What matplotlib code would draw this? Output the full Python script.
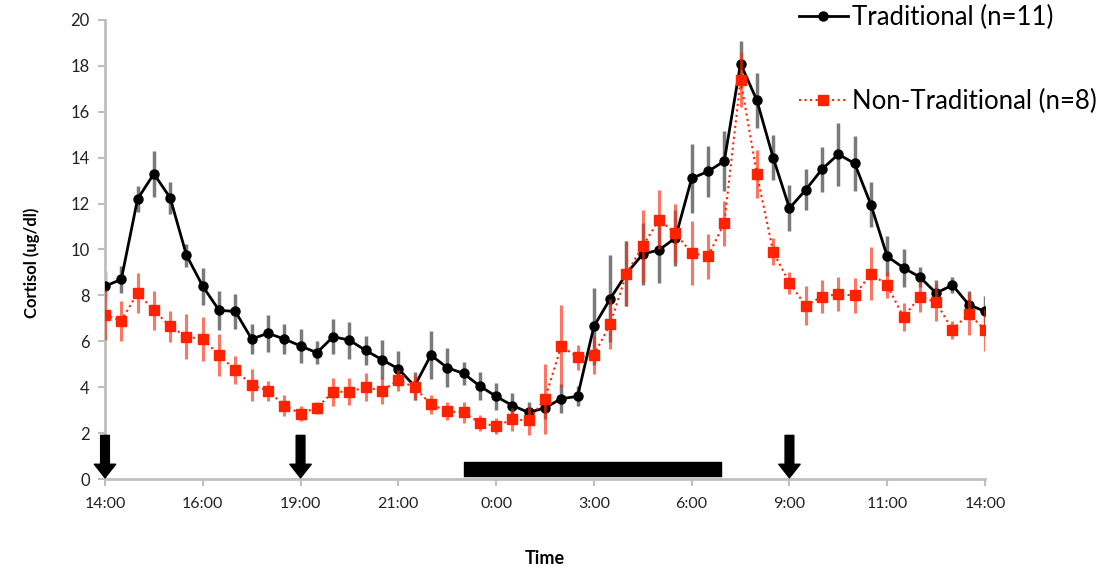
import numpy as np
import matplotlib
matplotlib.use('Agg')
from matplotlib import pyplot as plt

plt.rcParams['font.family'] = ['Lato', 'DejaVu Sans']

# x axis is a category axis: 55 samples, label every 6th
tick_labels = ['14:00', '16:00', '19:00', '21:00', '0:00', '3:00', '6:00', '9:00', '11:00', '14:00']

trad = [8.4, 8.7, 12.2, 13.3, 12.25, 9.75, 8.4, 7.35, 7.3, 6.1, 6.35, 6.1,
        5.8, 5.5, 6.2, 6.05, 5.6, 5.2, 4.8, 4.05, 5.4, 4.85, 4.6, 4.05,
        3.6, 3.2, 2.9, 3.1, 3.5, 3.6, 6.65, 7.85, 8.95, 9.8, 9.98, 10.5,
        13.1, 13.4, 13.85, 18.1, 16.5, 14.0, 11.8, 12.6, 13.5, 14.15, 13.75, 11.95,
        9.7, 9.2, 8.8, 8.1, 8.45, 7.6, 7.3]
trad_err = [0.65, 0.58, 0.58, 1.0, 0.7, 0.5, 0.8, 0.84, 0.78, 0.65, 0.8, 0.65,
            0.73, 0.5, 0.76, 0.8, 0.65, 0.84, 0.76, 0.62, 1.05, 0.84, 0.5, 0.62,
            0.58, 0.54, 0.44, 0.5, 0.62, 0.44, 1.67, 1.9, 1.42, 1.34, 1.45, 1.23,
            1.49, 1.1, 1.3, 1.0, 1.2, 0.98, 1.0, 0.9, 0.98, 1.38, 1.2, 0.98,
            0.87, 0.84, 0.45, 0.58, 0.36, 0.58, 0.69]

nontrad = [7.15, 6.9, 8.1, 7.35, 6.65, 6.2, 6.1, 5.4, 4.75, 4.1, 3.85, 3.2,
           2.85, 3.1, 3.8, 3.8, 4.0, 3.85, 4.3, 4.0, 3.25, 2.95, 2.9, 2.45,
           2.3, 2.6, 2.55, 3.5, 5.8, 5.3, 5.4, 6.75, 8.95, 10.15, 11.3, 10.7,
           9.85, 9.7, 11.15, 17.4, 13.3, 9.9, 8.55, 7.55, 7.95, 8.05, 8.0, 8.95,
           8.45, 7.05, 7.95, 7.7, 6.5, 7.2, 6.5]
nontrad_err = [1.1, 0.87, 0.86, 0.84, 0.69, 0.98, 0.94, 0.91, 0.62, 0.69, 0.44, 0.47,
               0.33, 0.25, 0.62, 0.58, 0.6, 0.58, 0.47, 0.55, 0.4, 0.4, 0.47, 0.36,
               0.36, 0.51, 0.62, 1.52, 1.78, 0.54, 0.84, 1.09, 1.42, 1.56, 1.3, 1.3,
               1.38, 0.98, 0.98, 1.2, 1.05, 0.58, 0.47, 0.84, 0.73, 0.73, 0.76, 1.16,
               0.58, 0.62, 0.69, 0.8, 0.4, 0.91, 0.91]

arrow_idx = [0, 12, 42]      # marker arrows at 14:00, 19:00, 9:00
sleep_span = (22, 37.8)      # black sleep bar, in sample index units
sleep_y = (0.15, 0.75)

x = np.arange(len(trad))
grey = '#bfbfbf'

fig = plt.figure(figsize=(11.05, 5.71), dpi=100)
ax = fig.add_axes([105 / 1105, 1 - 479 / 571, 880 / 1105, 459 / 571])

ax.errorbar(x, trad, yerr=trad_err, fmt='none', ecolor='#333333', alpha=0.65,
            elinewidth=2.5, capsize=0, zorder=2)
ax.plot(x, trad, color='black', lw=2, marker='o', ms=6.5, zorder=3,
        label='Traditional (n=11)')
ax.errorbar(x, nontrad, yerr=nontrad_err, fmt='none', ecolor='#ff2a10', alpha=0.65,
            elinewidth=2.2, capsize=0, zorder=4)
ax.plot(x, nontrad, color='#ff2200', lw=1.5, ls=':', marker='s', ms=7, zorder=5,
        label='Non-Traditional (n=8)')

# sleep bar and arrows
ax.broken_barh([(sleep_span[0], sleep_span[1] - sleep_span[0])],
               (sleep_y[0], sleep_y[1] - sleep_y[0]), color='black', zorder=6)
for i in arrow_idx:
    ax.annotate('', xy=(i, 0.05), xytext=(i, 1.9),
                arrowprops=dict(arrowstyle='simple,head_width=1.1,head_length=0.7,tail_width=0.45',
                                color='black', shrinkA=0, shrinkB=0, mutation_scale=14),
                annotation_clip=False, zorder=7)

ax.set_xlim(0, len(x) - 1)
ax.set_ylim(0, 20)
ax.set_xticks(x[::6])
ax.set_xticklabels(tick_labels, fontsize=11.5, color='#222222')
ax.set_yticks(np.arange(0, 21, 2))
ax.tick_params(axis='y', labelsize=12, colors=grey, labelcolor='#222222', length=5, width=1.5, pad=6)
ax.tick_params(axis='x', colors=grey, labelcolor='#222222', length=5, width=1.5, pad=8)

for side in ['top', 'right']:
    ax.spines[side].set_visible(False)
for side in ['left', 'bottom']:
    ax.spines[side].set_color(grey)
    ax.spines[side].set_linewidth(2)

ax.set_ylabel('Cortisol (ug/dl)', fontsize=12, fontweight='bold')
ax.yaxis.set_label_coords(-0.074, 0.47)
ax.set_xlabel('Time', fontsize=13, fontweight='bold', labelpad=28)

fig.legend(loc='upper left', bbox_to_anchor=(799 / 1105, 1 - 5 / 571), frameon=False,
           fontsize=18.5, labelspacing=2.3, handlelength=1.9, handletextpad=0.15,
           borderaxespad=0, borderpad=0)

fig.savefig('out.png', dpi=100)
